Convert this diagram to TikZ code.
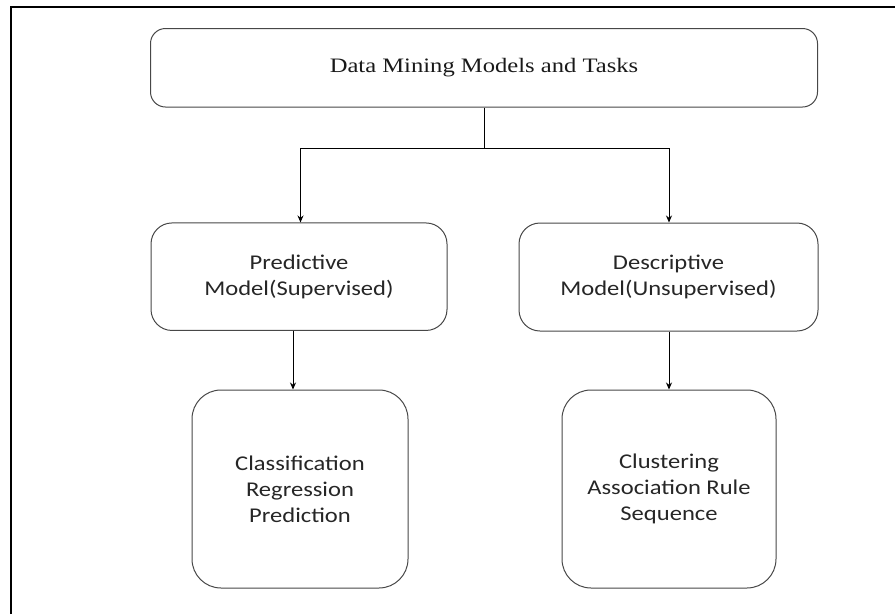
\documentclass[tikz,border=0pt]{standalone}
\usepackage{fontspec}
\setmainfont[FakeStretch=1.2]{Liberation Serif}
\newfontfamily\carl[FakeStretch=1.17]{Carlito}
\usetikzlibrary{arrows.meta}
\begin{document}
\begin{tikzpicture}[x=1pt,y=-1pt,
  boxa/.style={draw=black!72, line width=1pt, rounded corners=15pt, inner sep=0pt,
    font=\fontsize{20.5}{24}\selectfont, text=black!90},
  boxb/.style={draw=black!72, line width=1pt, rounded corners=21pt, inner sep=0pt,
    align=center, font=\carl\fontsize{21}{25.5}\selectfont, text=black!85},
  boxc/.style={draw=black!72, line width=1pt, rounded corners=29pt, inner sep=0pt,
    align=center, font=\carl\fontsize{21}{26}\selectfont, text=black!85},
  conn/.style={draw=black, line width=0.9pt},
  arr/.style={conn, -{Stealth[length=7pt,width=6pt]}}]
\useasboundingbox (0,0) rectangle (895,614);
\coordinate (fl) at (11,614);
\coordinate (fc) at (11,7);
\coordinate (fr) at (895,7);
\draw[line width=1.3pt] (fl) -- (fc) -- (fr);

\node[boxa, minimum width=667pt, minimum height=78.5pt] (top) at (484,67.75) {Data Mining Models and Tasks};
\node[boxb, minimum width=296pt, minimum height=107.5pt] (pred) at (299,276.7) {Predictive\\Model(Supervised)};
\node[boxb, minimum width=299pt, minimum height=108pt] (desc) at (668.5,277) {Descriptive\\Model(Unsupervised)};
\node[boxc, minimum width=216pt, minimum height=198pt] (cls) at (300,489) {Classification\\Regression\\Prediction};
\node[boxc, minimum width=214pt, minimum height=198pt] (clu) at (669,489) {Clustering\\Association Rule\\Sequence};

\coordinate (hub) at (484,148);
\draw[conn] (top.south) -- (hub);
\draw[arr] (hub) -| ([xshift=1.5pt]pred.north);
\draw[arr] (hub) -| ([xshift=0.5pt]desc.north);
\draw[arr] ([xshift=-6pt]pred.south) -- ([xshift=-7pt]cls.north);
\draw[arr] ([xshift=0.5pt]desc.south) -- (clu.north);
\end{tikzpicture}
\end{document}
